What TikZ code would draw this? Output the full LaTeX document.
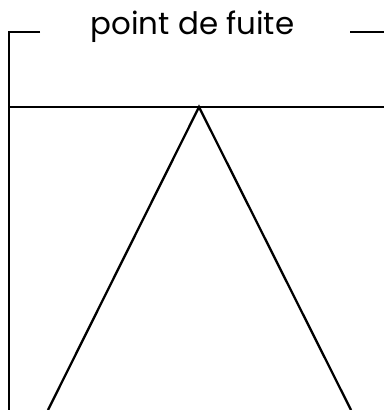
\documentclass[tikz,border=0pt]{standalone}
\usepackage{fontspec}
\setmainfont{Poppins}
\begin{document}
\begin{tikzpicture}[x=1bp,y=-1bp,line width=2.3bp,
  lbl/.style={font=\fontsize{31}{34}\selectfont,inner sep=0pt,anchor=base}]
\useasboundingbox (0,0) rectangle (384,410);
\coordinate (tl) at (9,32);
\coordinate (tle) at (40,32);
\coordinate (tre) at (350,32);
\coordinate (tr) at (384,32);
\coordinate (bl) at (9,410);
\coordinate (hl) at (9,107);
\coordinate (hr) at (384,107);
\coordinate (apex) at (199,107);
\coordinate (fl) at (48,410);
\coordinate (fr) at (351,410);
\node[lbl] (title) at (192.5,34) {point de fuite};
\draw (tle) -- (tl) -- (bl);
\draw (tre) -- (tr);
\draw (hl) -- (hr);
\draw (fl) -- (apex) -- (fr);
\end{tikzpicture}
\end{document}
